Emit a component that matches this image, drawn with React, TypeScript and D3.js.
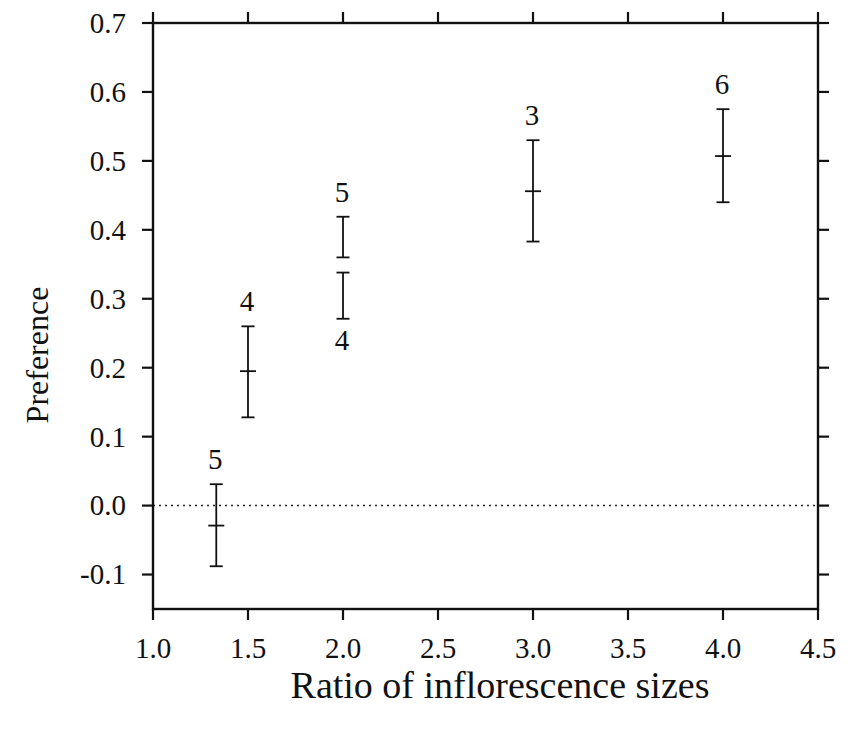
import React from "react";
import * as d3 from "d3";

// Data
const xVals = [1.333, 1.5, 2.0, 2.0, 3.0, 4.0];
const means = [-0.029, 0.195, NaN, NaN, 0.456, 0.507];
const lows = [-0.088, 0.128, 0.36, 0.271, 0.383, 0.44];
const highs = [0.031, 0.26, 0.419, 0.338, 0.53, 0.575];
const nLabels = ["5", "4", "5", "4", "3", "6"];
const labelBelow = [false, false, false, true, false, false];

const xTicks = [1.0, 1.5, 2.0, 2.5, 3.0, 3.5, 4.0, 4.5];
const yTicks = [-0.1, 0.0, 0.1, 0.2, 0.3, 0.4, 0.5, 0.6, 0.7];

const W = 852;
const H = 730;
const left = 153;
const right = 818;
const top = 23;
const bottom = 609;

export default function App() {
  const x = d3.scaleLinear().domain([1.0, 4.5]).range([left, right]);
  const y = d3.scaleLinear().domain([-0.15, 0.7]).range([bottom, top]);
  const font = "'Liberation Serif', 'Times New Roman', serif";
  const tickLen = 11;
  const capW = 13;
  const meanW = 16;
  const fmt = (v: number) => d3.format(".1f")(v).replace("\u2212", "-");

  return (
    <svg
      width={W}
      height={H}
      style={{ position: "absolute", left: 0, top: 0, background: "#fff" }}
      fontFamily={font}
    >
      <rect x={0} y={0} width={W} height={H} fill="#fff" />
      {/* zero line */}
      <line
        x1={x(1.0)}
        x2={x(4.5)}
        y1={y(0)}
        y2={y(0)}
        stroke="#222"
        strokeWidth={1.5}
        strokeDasharray="2,4"
      />
      {/* frame */}
      <rect
        x={left}
        y={top}
        width={right - left}
        height={bottom - top}
        fill="none"
        stroke="#111"
        strokeWidth={2.4}
      />
      {/* x ticks bottom & top */}
      {xTicks.map((t) => (
        <g key={"x" + t}>
          <line x1={x(t)} x2={x(t)} y1={bottom} y2={bottom + tickLen} stroke="#111" strokeWidth={2.2} />
          <line x1={x(t)} x2={x(t)} y1={top} y2={top - tickLen} stroke="#111" strokeWidth={2.2} />
          <text x={x(t)} y={bottom + 49} fontSize={29} textAnchor="middle" fill="#111">
            {fmt(t)}
          </text>
        </g>
      ))}
      {/* y ticks left & right */}
      {yTicks.map((t) => (
        <g key={"y" + t}>
          <line x1={left} x2={left - tickLen} y1={y(t)} y2={y(t)} stroke="#111" strokeWidth={2.2} />
          <line x1={right} x2={right + tickLen} y1={y(t)} y2={y(t)} stroke="#111" strokeWidth={2.2} />
          <text x={126} y={y(t)} dy="0.34em" fontSize={29} textAnchor="end" fill="#111">
            {fmt(t)}
          </text>
        </g>
      ))}
      {/* error bars */}
      {xVals.map((xv, i) => {
        const cx = x(xv);
        return (
          <g key={"e" + i} stroke="#111" strokeWidth={1.8}>
            <line x1={cx} x2={cx} y1={y(highs[i])} y2={y(lows[i])} />
            <line x1={cx - capW / 2} x2={cx + capW / 2} y1={y(highs[i])} y2={y(highs[i])} />
            <line x1={cx - capW / 2} x2={cx + capW / 2} y1={y(lows[i])} y2={y(lows[i])} />
            {!isNaN(means[i]) && (
              <line x1={cx - meanW / 2} x2={cx + meanW / 2} y1={y(means[i])} y2={y(means[i])} />
            )}
            <text
              x={cx - 1}
              y={labelBelow[i] ? y(lows[i]) + 31 : y(highs[i]) - 15}
              fontSize={29}
              textAnchor="middle"
              fill="#111"
              stroke="none"
            >
              {nLabels[i]}
            </text>
          </g>
        );
      })}
      {/* axis titles */}
      <text x={500} y={698} fontSize={38} textAnchor="middle" fill="#111">
        Ratio of inflorescence sizes
      </text>
      <text
        transform={`translate(48, ${(top + bottom) / 2 + 39}) rotate(-90)`}
        fontSize={32}
        textAnchor="middle"
        fill="#111"
      >
        Preference
      </text>
    </svg>
  );
}
